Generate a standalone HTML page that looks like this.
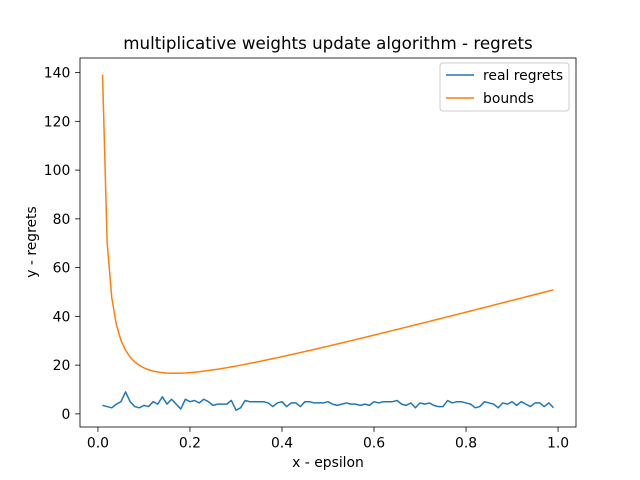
<!DOCTYPE html>
<html><head><meta charset="utf-8"><style>
html,body{margin:0;padding:0;background:#fff;}
svg{display:block;font-family:"DejaVu Sans","Liberation Sans",sans-serif;}
</style></head><body>
<svg id="chart" width="640" height="480">
<rect width="640" height="480" fill="#fff"/>
<text x="328" y="49" text-anchor="middle" font-size="16.7">multiplicative weights update algorithm - regrets</text>
<g id="plot"></g>
<text x="328" y="467" text-anchor="middle" font-size="13.9">x - epsilon</text>
<text transform="translate(36,242) rotate(-90)" text-anchor="middle" font-size="13.9">y - regrets</text>
<g>
<rect x="440" y="63" width="129" height="48" rx="3" fill="#fff" stroke="#ccc"/>
<line x1="446" y1="75" x2="474" y2="75" stroke="#1f77b4" stroke-width="1.5"/>
<text x="483" y="80" font-size="13.9">real regrets</text>
<line x1="446" y1="98" x2="474" y2="98" stroke="#ff7f0e" stroke-width="1.5"/>
<text x="483" y="103" font-size="13.9">bounds</text>
</g>
</svg>
<script>
const realRegrets=[3.5,3,2.5,4,5,9,5,3,2.5,3.5,3,5,4,7,4,6,4,2,6,5,5.5,4.5,6,5,3.5,4,4,4,5.5,1.5,2.5,5.5,5,5,5,5,4.5,3,4.5,5,3,4.5,4.5,3,5,5,4.5,4.5,4.5,5,4,3.5,4,4.5,4,4,3.5,4,3.5,5,4.5,5,5,5,5.5,4,3.5,4.5,2.5,4.5,4,4.5,3.5,3,3,5.5,4.5,5,5,4.5,4,2.5,3,5,4.5,4,2.5,4.5,4,5,3.5,5,4,3,4.5,4.5,3,4.5,2.5];
const bounds=[139.1,70.3,47.7,36.65,30.2,26.1,23.3,21.3,19.9,18.86,18.1,17.55,17.16,16.9,16.74,16.66,16.65,16.7,16.79,16.93,17.1,17.3,17.53,17.78,18.04,18.33,18.63,18.95,19.28,19.62,19.97,20.33,20.7,21.08,21.46,21.85,22.25,22.65,23.05,23.47,23.88,24.3,24.72,25.15,25.58,26.01,26.45,26.89,27.33,27.77,28.22,28.67,29.12,29.57,30.02,30.48,30.93,31.39,31.85,32.31,32.77,33.24,33.7,34.17,34.63,35.1,35.57,36.04,36.51,36.98,37.45,37.93,38.4,38.87,39.35,39.82,40.3,40.78,41.25,41.73,42.21,42.69,43.17,43.65,44.13,44.61,45.09,45.58,46.06,46.54,47.02,47.51,47.99,48.47,48.96,49.44,49.93,50.41,50.9];
const epsilons=bounds.map((_,i)=>(i+1)/100);
const xTicks=[0,0.2,0.4,0.6,0.8,1.0];
const xTickLabels=["0.0","0.2","0.4","0.6","0.8","1.0"];
const yTicks=[0,20,40,60,80,100,120,140];

const L=80,R=576,T=58,B=427;
const NS="http://www.w3.org/2000/svg";
const xmin0=Math.min(...epsilons),xmax0=Math.max(...epsilons);
const xpad=(xmax0-xmin0)*0.05,xmin=xmin0-xpad,xmax=xmax0+xpad;
const all=realRegrets.concat(bounds);
const ymin0=Math.min(...all),ymax0=Math.max(...all);
const ypad=(ymax0-ymin0)*0.05,ymin=ymin0-ypad,ymax=ymax0+ypad;
const sx=v=>L+(v-xmin)/(xmax-xmin)*(R-L);
const sy=v=>B-(v-ymin)/(ymax-ymin)*(B-T);
const g=document.getElementById('plot');
function mk(tag,attrs){const e=document.createElementNS(NS,tag);for(const k in attrs)e.setAttribute(k,attrs[k]);g.appendChild(e);return e;}
function series(vals,color,name){
  const p=mk('polyline',{points:vals.map((v,i)=>sx(epsilons[i])+','+sy(v)).join(' '),fill:'none',stroke:color,'stroke-width':1.5,'stroke-linejoin':'round'});
  
  
}
series(realRegrets,'#1f77b4','real-regrets-line');
series(bounds,'#ff7f0e','bounds-line');
xTicks.forEach((t,i)=>{
  const x=sx(t);
  const l=mk('line',{x1:x,x2:x,y1:B,y2:B+4.9,stroke:'#000','stroke-width':0.8});
  
  
  const tx=mk('text',{x:x,y:B+20.5,'text-anchor':'middle','font-size':13.9});
  tx.textContent=xTickLabels[i];
  
  
});
yTicks.forEach(t=>{
  const y=sy(t);
  const l=mk('line',{x1:L-4.9,x2:L,y1:y,y2:y,stroke:'#000','stroke-width':0.8});
  
  
  const tx=mk('text',{x:L-9.7,y:y+5,'text-anchor':'end','font-size':13.9});
  tx.textContent=String(t);
  
  
});
const fr=mk('rect',{x:L,y:T,width:R-L,height:B-T,fill:'none',stroke:'#000','stroke-width':0.8});


</script>
</body></html>
